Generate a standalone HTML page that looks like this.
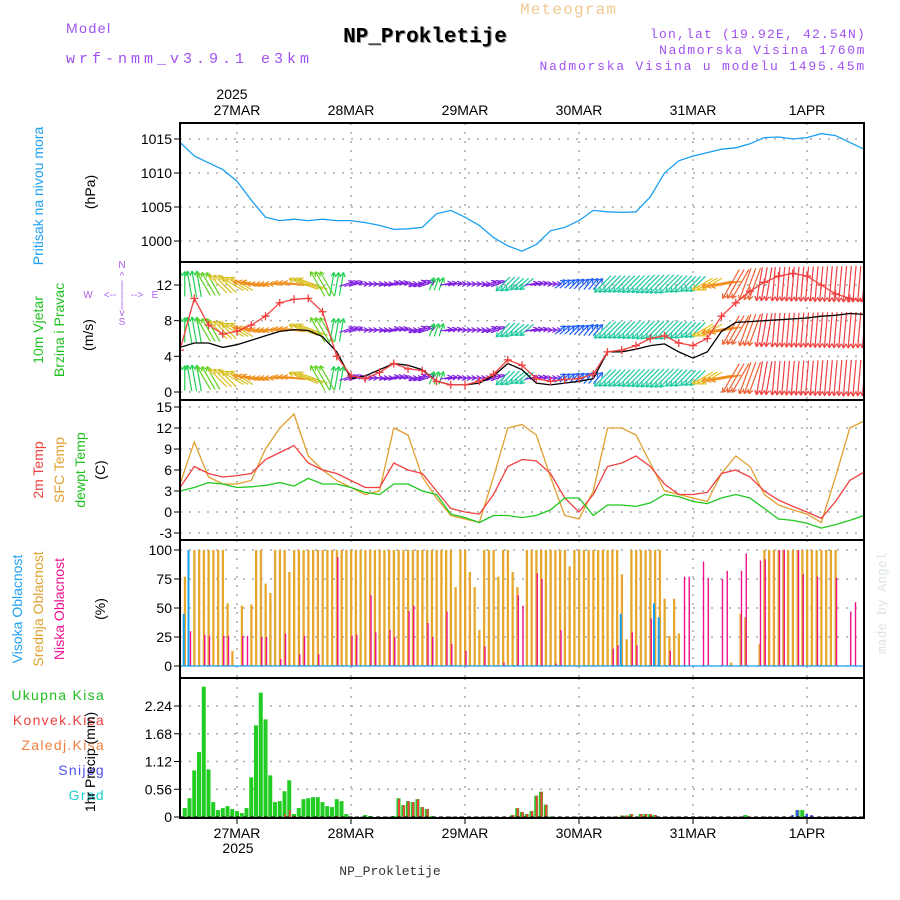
<!DOCTYPE html>
<html><head><meta charset="utf-8"><style>
html,body{margin:0;padding:0;background:#fff;}
svg{display:block;font-family:"Liberation Sans",sans-serif;}
.m{font-family:"Liberation Mono",monospace;}
</style></head><body>
<svg id="c" width="900" height="900" viewBox="0 0 900 900" xmlns="http://www.w3.org/2000/svg">
<text x="66" y="33" font-size="14" fill="#a050f0" letter-spacing="1.5">Model</text>
<text x="66" y="63" font-size="15" fill="#a050f0" class="m" letter-spacing="4">wrf-nmm_v3.9.1 e3km</text>
<text x="520" y="14" font-size="16" fill="#f0c890" letter-spacing="1.2" class="m">Meteogram</text>
<text x="426" y="43" font-size="21" font-weight="bold" fill="#999" text-anchor="middle" class="m">NP_Prokletije</text>
<text x="425" y="42" font-size="21" font-weight="bold" fill="#000" text-anchor="middle" class="m">NP_Prokletije</text>
<text x="866" y="38" font-size="13" fill="#a050f0" text-anchor="end" letter-spacing="1.2" class="m">lon,lat (19.92E, 42.54N)</text>
<text x="866" y="54" font-size="13" fill="#a050f0" text-anchor="end" letter-spacing="1.6" class="m">Nadmorska Visina 1760m</text>
<text x="866" y="70" font-size="13" fill="#a050f0" text-anchor="end" letter-spacing="1.8" class="m">Nadmorska Visina u modelu 1495.45m</text>
<text x="232" y="99" font-size="14" text-anchor="middle">2025</text>
<text x="390" y="875" font-size="13" text-anchor="middle" class="m" fill="#333">NP_Prokletije</text>
<text x="0" y="0" font-size="13" fill="#dde4dd" transform="translate(886,654) rotate(-90)" class="m">made by Angel</text>

<text transform="translate(43,196) rotate(-90)" font-size="14" fill="#20a0f0" text-anchor="middle">Pritisak na nivou mora</text>
<text transform="translate(95,192) rotate(-90)" font-size="14" text-anchor="middle">(hPa)</text>
<text transform="translate(43,330) rotate(-90)" font-size="14" fill="#20c020" text-anchor="middle">10m Vjetar</text>
<text transform="translate(64,330) rotate(-90)" font-size="14" fill="#20c020" text-anchor="middle">Brzina i Pravac</text>
<text transform="translate(93,335) rotate(-90)" font-size="14" text-anchor="middle">(m/s)</text>
<g fill="#b060f0" font-size="10" text-anchor="middle">
<text x="122" y="268">N</text><text x="122" y="279">^</text><text x="122" y="288">|</text>
<text x="88" y="298">W</text><text x="110" y="298">&lt;--</text><text x="122" y="298">|</text><text x="137" y="298">--&gt;</text><text x="155" y="298">E</text>
<text x="122" y="308">|</text><text x="122" y="316">v</text><text x="122" y="325">S</text>
</g>
<text transform="translate(43,470) rotate(-90)" font-size="14" fill="#f04040" text-anchor="middle">2m Temp</text>
<text transform="translate(64,470) rotate(-90)" font-size="14" fill="#e0a030" text-anchor="middle">SFC Temp</text>
<text transform="translate(85,470) rotate(-90)" font-size="14" fill="#20c020" text-anchor="middle">dewpt Temp</text>
<text transform="translate(105,470) rotate(-90)" font-size="14" text-anchor="middle">(C)</text>
<text transform="translate(22,609) rotate(-90)" font-size="14" fill="#20a0f0" text-anchor="middle">Visoka Oblacnost</text>
<text transform="translate(43,609) rotate(-90)" font-size="14" fill="#e0a030" text-anchor="middle">Srednja Oblacnost</text>
<text transform="translate(64,609) rotate(-90)" font-size="14" fill="#f01090" text-anchor="middle">Niska Oblacnost</text>
<text transform="translate(105,609) rotate(-90)" font-size="14" text-anchor="middle">(%)</text>
<g font-size="14" text-anchor="end" letter-spacing="1.3">
<text x="105" y="700" fill="#20c020">Ukupna Kisa</text>
<text x="105" y="725" fill="#f04040">Konvek.Kisa</text>
<text x="105" y="750" fill="#f08040">Zaledj.Kisa</text>
<text x="105" y="775" fill="#5050f0">Snijeg</text>
<text x="105" y="800" fill="#20d0d0">Grad</text>
</g>
<text transform="translate(95,762) rotate(-90)" font-size="14" text-anchor="middle">1hr Precip (mm)</text>
<text x="238" y="853" font-size="14" text-anchor="middle">2025</text>
<g id="plots"></g>
</svg>
<script>
const dayLabels=["27MAR","28MAR","29MAR","30MAR","31MAR","1APR"];
const pressTicks=[1000,1005,1010,1015];
const windTicks=[0,4,8,12];
const tempTicks=[-3,0,3,6,9,12,15];
const cloudTicks=[0,25,50,75,100];
const precipTicks=[0,0.56,1.12,1.68,2.24];
const pressure=[1014.5,1012.5,1011.5,1010.5,1008.8,1006,1003.5,1003,1003.2,1003,1003.2,1003,1003,1002.7,1002.3,1001.7,1001.8,1002,1004,1004.5,1003.5,1002.3,1000.5,999.3,998.5,999.5,1001.5,1002,1003,1004.5,1004.3,1004.2,1004.3,1006.5,1010,1011.8,1012.5,1013,1013.5,1013.7,1014.3,1015.2,1015.3,1015,1015.2,1015.8,1015.5,1014.5,1013.5];
const windSpeed=[5,5.5,5.5,5,5.3,5.8,6.3,6.8,7,6.9,6.2,4.5,1.5,1.8,2.5,3.2,3,2.5,1.2,0.8,0.8,1,1.8,3.2,2.5,1,0.8,1,1.2,1.5,4.5,4.5,4.8,5.2,5.4,4.5,3.8,4.5,6.8,7.8,7.9,8,8.1,8.2,8.3,8.5,8.6,8.8,8.7];
const windGust=[4.7,10.5,7.5,6.5,6.8,7.5,8.5,10,10.4,10.5,9,4,1.8,1.5,2.2,3.2,2.6,2.4,1.2,0.8,0.8,1.2,2,3.6,3,1.5,1.2,1.4,1.5,2,4.5,4.7,5.2,6,6.3,5.5,5.2,6,8.5,10,11.3,12.3,13,13.3,13,12,11,10.5,10.2];
const windDir=[180,170,150,135,120,100,90,90,95,110,150,190,250,270,270,260,270,250,200,260,270,270,250,45,50,260,270,230,225,220,45,45,45,45,45,45,45,60,80,30,20,10,5,5,5,5,5,5,5];
const temp2m=[3.5,6.5,5.5,5,5.2,5.5,7.5,8.5,9.5,7,6,5.5,4.5,3.5,3.5,7,6,5.5,3,0.5,0,-0.3,2.5,6.5,7.5,7.3,5.5,2,0,2.5,6.5,7,8,6.5,4,2.5,2.5,2.8,5.5,6,5,3,1.7,0.8,0,-0.9,1.5,4.5,5.7];
const tempSfc=[4,10,5,4,4,4.5,9,12,14,8,6,4.5,3.5,2.5,3,12,11,5,2,-0.5,-1,-1.5,5,12,12.5,11,5,-0.5,-1,3,12,12,11,7,3,2.5,2,1.5,5.5,8,6.5,2.5,1,0.3,-0.3,-1.5,5,12,13];
const dewpt=[3,3.5,4.2,4,3.5,3.6,3.8,4.2,3.7,4.8,4,4,3.5,2.8,2.5,4,4,3,2.5,-0.3,-0.8,-1.5,-0.5,-0.5,-0.8,-0.5,0.3,2,2,-0.5,1,1,0.8,1.3,2.5,2.2,1.5,1.2,2,2.5,2,0.5,-1,-1.2,-1.6,-2.3,-1.8,-1.2,-0.5];
const cloudMid=[0,77,0,100,100,100,100,100,100,100,54,13,0,52,0,53,100,100,71,63,100,100,100,81,100,100,100,100,100,100,100,100,100,100,100,100,100,100,100,100,100,100,100,100,100,100,100,100,100,100,100,100,100,100,100,100,100,100,68,100,100,81,68,31,100,100,100,77,100,100,81,68,0,100,100,100,100,100,100,100,100,100,86,100,100,100,100,100,100,100,100,100,100,79,23,100,100,100,100,100,100,100,58,26,58,28,0,0,0,0,0,0,0,0,0,0,3,0,45,42,0,0,19,100,100,100,100,100,100,100,100,100,100,100,100,100,100,100,100,0,0,0,0,0,0,0,0];
const cloudLow=[0,0,30,0,0,27,26,0,0,26,26,0,0,26,26,0,0,25,25,0,0,6,28,0,0,10,26,0,0,10,0,0,0,94,0,0,26,27,0,0,61,29,0,0,31,25,0,0,47,52,0,0,37,25,0,0,47,19,0,0,13,0,0,0,17,0,0,0,3,0,0,61,52,0,0,80,75,0,0,2,31,0,0,0,0,0,0,0,0,0,0,15,18,0,0,29,18,0,0,41,0,0,0,13,0,0,77,77,0,0,90,76,0,0,75,82,0,0,82,97,0,0,91,92,0,0,100,100,0,0,100,79,0,0,77,0,0,0,76,0,0,47,55,0,0];
const cloudHigh=[0,45,100,0,0,0,0,0,0,0,0,0,0,0,0,0,0,0,0,0,0,0,0,0,0,0,0,0,0,0,0,0,0,0,0,0,0,0,0,0,0,0,0,0,0,0,0,0,0,0,0,0,0,0,0,0,0,0,0,0,0,0,0,0,0,0,0,0,0,0,0,0,0,0,0,0,0,0,0,0,0,0,0,0,0,0,0,0,0,0,0,0,0,45,0,0,0,0,0,0,54,42,0,0,0,0,0,0,0,0,0,0,0,0,0,0,0,0,0,0,0,0,0,0,0,0,0,0,0,0,0,0,0,0,0,0,0,0,0,0,0,0,0,0,0];
const precipTotal=[0,0.18,0.38,0.94,1.31,2.63,0.96,0.30,0.14,0.18,0.22,0.16,0.12,0.08,0.18,0.80,1.85,2.51,1.97,0.84,0.30,0.32,0.52,0.74,0.06,0.18,0.36,0.38,0.40,0.40,0.30,0.22,0.20,0.36,0.32,0.06,0,0,0,0.04,0.02,0,0,0,0,0.02,0.38,0.24,0.32,0.30,0.36,0.20,0.16,0.02,0,0,0,0,0,0,0,0,0,0,0,0,0,0,0,0,0.04,0.18,0.10,0.06,0.12,0.43,0.51,0.25,0.01,0,0,0,0,0,0,0,0,0,0,0,0,0,0,0.03,0.03,0.06,0,0.06,0.06,0.06,0.04,0,0,0,0,0,0,0,0,0,0,0,0,0,0,0,0,0,0,0.04,0,0,0,0,0,0,0,0,0,0,0.14,0.14,0,0,0,0,0,0,0,0,0,0,0,0,0];
const precipConv=[0,0,0,0,0,0,0,0,0,0,0,0,0,0,0,0,0,0,0,0,0,0,0.05,0.14,0.02,0,0,0,0,0,0,0,0,0.02,0,0,0,0,0,0,0,0,0,0,0,0,0.36,0.24,0.32,0.30,0.36,0.20,0.16,0,0,0,0,0,0,0,0,0,0,0,0,0,0,0,0,0,0.04,0.18,0.10,0.06,0.12,0.43,0.51,0.25,0,0,0,0,0,0,0,0,0,0,0,0,0,0,0,0.03,0.03,0.06,0,0.06,0.06,0.06,0.04,0,0,0,0,0,0,0,0,0,0,0,0,0,0,0,0,0,0,0,0,0,0,0,0,0,0,0,0,0,0,0,0,0,0,0,0,0,0,0,0,0,0,0];
const precipSnow=[0,0,0,0,0,0,0,0,0,0,0,0,0,0,0,0,0,0,0,0,0,0,0,0,0,0,0,0,0,0,0,0,0,0,0,0,0,0,0,0,0,0,0,0,0,0,0,0,0,0,0,0,0,0,0,0,0,0,0,0,0,0,0,0,0,0,0,0,0,0,0,0,0,0,0,0,0,0,0,0,0,0,0,0,0,0,0,0,0,0,0,0,0,0,0,0,0,0,0,0,0,0,0,0,0,0,0,0,0,0,0,0,0,0,0,0,0,0,0,0,0,0,0,0,0,0,0,0,0,0.04,0.14,0,0.06,0.04,0,0,0,0,0,0,0,0,0,0,0];

const NS="http://www.w3.org/2000/svg";
const g=document.getElementById('plots');
const X0=180,X1=864,PXH=4.75;
function xh(h){return X0+h*PXH;}
function lin(v0,y0,v1,y1){return v=>y0+(v-v0)*(y1-y0)/(v1-v0);}
const yP=lin(1000,241,1015,139), yW=lin(0,392,12,285), yT=lin(0,512,15,407), yC=lin(0,666,100,550), yR=lin(0,817,2.24,706);
const panels=[[123,262],[262,400],[400,540],[540,678],[678,818]];
function el(tag,attrs,parent){const e=document.createElementNS(NS,tag);for(const k in attrs)e.setAttribute(k,attrs[k]);(parent||g).appendChild(e);return e;}
const defs=el('defs',{});
panels.forEach((p,i)=>{const cp=el('clipPath',{id:'cp'+i},defs);el('rect',{x:X0,y:p[0],width:X1-X0,height:p[1]-p[0]},cp);});
function grid(ticks,yf,pi,fmt){
  const p=panels[pi];
  ticks.forEach(t=>{const y=yf(t);
    const l=el('line',{x1:X0,x2:X1,y1:y,y2:y,stroke:'#aaa','stroke-width':1.5,'stroke-dasharray':'2 7'});
    
    
    el('line',{x1:X0-6,x2:X0,y1:y,y2:y,stroke:'#000'});
    const tx=el('text',{x:X0-8,y:y+5,'font-size':14,'text-anchor':'end'});tx.textContent=fmt?fmt(t):t;
    
    
  });
  dayLabels.forEach((d,i)=>{const x=xh(12+24*i);
    const l=el('line',{x1:x,x2:x,y1:p[0],y2:p[1],stroke:'#aaa','stroke-width':1.5,'stroke-dasharray':'2 7'});
    
    
  });
}
grid(pressTicks,yP,0);grid(windTicks,yW,1);grid(tempTicks,yT,2);grid(cloudTicks,yC,3);grid(precipTicks,yR,4,t=>t===0?'0':t.toFixed(2));
dayLabels.forEach((d,i)=>{const x=xh(12+24*i);
  const a=el('text',{x:x,y:115,'font-size':14,'text-anchor':'middle'});a.textContent=d;
  
  
  const b=el('text',{x:x,y:838,'font-size':14,'text-anchor':'middle'});b.textContent=d;
  
  
  el('line',{x1:x,x2:x,y1:818,y2:824,stroke:'#000'});
});
function path(arr,yf,color,pi,name,w){
  const d=arr.map((v,i)=>(i?'L':'M')+xh(i*3).toFixed(1)+' '+yf(v).toFixed(1)).join(' ');
  const p=el('path',{d:d,fill:'none',stroke:color,'stroke-width':w||1.3,'clip-path':'url(#cp'+pi+')'});
  
  
  return p;
}
path(pressure,yP,'#1a9ff0',0,'pressure-line');
const dirCols=[[0,'#f04040'],[22,'#f06030'],[45,'#20c8a0'],[67,'#e8c020'],[90,'#f09020'],[120,'#d8c020'],[150,'#60d020'],[180,'#20d050'],[225,'#2060f0'],[270,'#8020e0'],[315,'#e020a0'],[360,'#f04040']];
function dirColor(d){let best=dirCols[0],bd=999;dirCols.forEach(c=>{const dd=Math.abs(c[0]-d);if(dd<bd){bd=dd;best=c;}});return best[1];}
const wg=el('g',{'clip-path':'url(#cp1)'});


[284,330,378].forEach(cy=>{
  windDir.forEach((d,i)=>{
    const L=10+3*windSpeed[i];const a=(d+180)*Math.PI/180;
    const dx=Math.sin(a)*L, dy=-Math.cos(a)*L;const col=dirColor(d);
    for(let k=-1;k<=1;k++){
      if(i===0&&k<0)continue;
      const xc=xh(i*3+k);const x1=xc-dx/2,y1=cy-dy/2,x2=xc+dx/2,y2=cy+dy/2;
      el('line',{x1:x1,y1:y1,x2:x2,y2:y2,stroke:col,'stroke-width':1.2},wg);
      const ha=Math.atan2(dy,dx);
      [2.6,-2.6].forEach(s=>el('line',{x1:x2,y1:y2,x2:x2-5*Math.cos(ha+s*0.2),y2:y2-5*Math.sin(ha+s*0.2),stroke:col,'stroke-width':1.2},wg));
    }
  });
});
path(windSpeed,yW,'#000',1,'wind-speed-line');
path(windGust,yW,'#f04040',1,'wind-gust-line');
windGust.forEach((v,i)=>{const x=xh(i*3),y=yW(v);
  const m=el('path',{d:`M${x-4} ${y}H${x+4}M${x} ${y-4}V${y+4}`,stroke:'#f04040','stroke-width':1.3,'clip-path':'url(#cp1)'});
  
  
});
path(tempSfc,yT,'#e0a030',2,'sfc-temp-line');
path(temp2m,yT,'#f04040',2,'temp-2m-line');
path(dewpt,yT,'#20c820',2,'dewpoint-line');
function bars(arr,yf,y0,col,off,w,pi,name){
  arr.forEach((v,i)=>{if(v<=0)return;const y=yf(v);
    const r=el('rect',{x:xh(i)+off,y:y,width:w,height:y0-y,fill:col,'clip-path':'url(#cp'+pi+')'});
    
    
  });
}
bars(cloudMid,yC,666,'#e6a82c',-1,2.3,3,'cloud-mid-bar');
bars(cloudHigh,yC,666,'#1aa0f0',-2,2,3,'cloud-high-bar');
bars(cloudLow,yC,666,'#f0108a',0.3,1.4,3,'cloud-low-bar');
el('line',{x1:X0,x2:X1,y1:666,y2:666,stroke:'#1aa0f0','stroke-width':1.2});
bars(precipTotal,yR,817,'#22cc22',-2,4,4,'precip-total-bar');
bars(precipConv,yR,817,'#f04040',-0.5,2,4,'precip-convective-bar');
bars(precipSnow,yR,817,'#4050f0',-1.5,2.5,4,'precip-snow-bar');
el('line',{x1:X0,x2:X1,y1:817,y2:817,stroke:'#000','stroke-width':1,'stroke-dasharray':'4 3'});
panels.forEach(p=>{const r=el('rect',{x:X0,y:p[0],width:X1-X0,height:p[1]-p[0],fill:'none',stroke:'#000','stroke-width':2});
  
  
});
</script>
</body></html>
